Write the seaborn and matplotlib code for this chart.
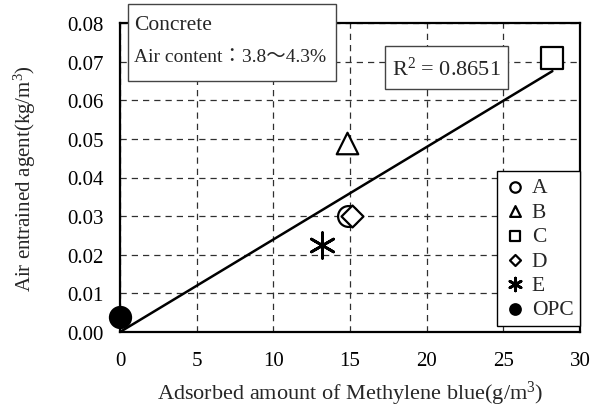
import numpy as np
import pandas as pd
import matplotlib
matplotlib.use("Agg")
import matplotlib.pyplot as plt
from matplotlib.patches import Rectangle
import seaborn as sns

# Measured samples: methylene blue adsorption vs. air-entraining agent dosage
labels = ["A", "B", "C", "D", "E", "OPC"]
mb_adsorbed = [14.9, 14.8, 28.2, 15.1, 13.2, 0.0]        # g/m3
ae_agent = [0.030, 0.049, 0.071, 0.030, 0.0225, 0.004]   # kg/m3
r2_text = "0.8651"

x_ticks = [0, 5, 10, 15, 20, 25, 30]
y_ticks = [0.00, 0.01, 0.02, 0.03, 0.04, 0.05, 0.06, 0.07, 0.08]

marker_map = {"A": "o", "B": "^", "C": "s", "D": "D", "E": (6, 2, 0), "OPC": "o"}
size_map = {"A": 225, "B": 240, "C": 240, "D": 125, "E": 340, "OPC": 230}
face_map = {"A": "white", "B": "white", "C": "white", "D": "white", "E": "black", "OPC": "black"}

sns.set_style("white")
plt.rcParams["font.family"] = ["Liberation Serif", "Noto Sans CJK JP"]
plt.rcParams["mathtext.fontset"] = "custom"
plt.rcParams["mathtext.rm"] = "Liberation Serif"
plt.rcParams["mathtext.it"] = "Liberation Serif:italic"

df = pd.DataFrame({"label": labels, "mb": mb_adsorbed, "ae": ae_agent})

fig = plt.figure(figsize=(5.92, 4.10), dpi=100)
ax = fig.add_axes([120 / 592, 1 - 333 / 410, 460 / 592, 309 / 410])

# Least-squares line through the origin
xv = np.asarray(mb_adsorbed)
yv = np.asarray(ae_agent)
slope = np.sum(xv * yv) / np.sum(xv * xv)
fit_x = np.array([0.0, xv.max()])
sns.lineplot(x=fit_x, y=slope * fit_x, color="black", lw=1.8, ax=ax, zorder=3)

for lab in labels:
    sub = df[df["label"] == lab]
    sns.scatterplot(
        data=sub, x="mb", y="ae", marker=marker_map[lab], s=size_map[lab],
        facecolor=face_map[lab], edgecolor="black",
        linewidth=2.0 if lab == "E" else 1.6,
        ax=ax, zorder=4, clip_on=False, label=lab,
    )

ax.set_xlim(0, 30)
ax.set_ylim(0, 0.08)
ax.set_xticks(x_ticks)
ax.set_yticks(y_ticks)
ax.set_yticklabels([f"{v:.2f}" for v in y_ticks])
ax.set_xticks(np.arange(0, 31, 1), minor=True)
ax.set_yticks(np.arange(0, 0.0801, 0.002), minor=True)
ax.tick_params(which="major", direction="in", length=7, width=1.2, labelsize=15, colors="black")
ax.tick_params(axis="x", which="major", pad=14)
ax.tick_params(axis="y", which="major", pad=12)
ax.tick_params(which="minor", direction="in", length=4, width=1.0)
ax.grid(True, which="major", ls=(0, (5, 4)), color="#303030", lw=0.9)
for sp in ax.spines.values():
    sp.set_color("black")
    sp.set_linewidth(1.6)

ax.set_xlabel("Adsorbed amount of Methylene blue(g/m$^3$)", fontsize=16)
ax.set_ylabel("Air entrained agent(kg/m$^3$)", fontsize=15)
ax.xaxis.set_label_coords(0.5, (333 - 394) / 309)
ax.xaxis.label.set_va("center")
ax.yaxis.set_label_coords((25 - 120) / 460, 0.5)
ax.yaxis.label.set_va("center")

leg = ax.legend(loc="lower right", bbox_to_anchor=(1.0, 0.02), borderaxespad=0,
                fontsize=15.5, frameon=True, fancybox=False, edgecolor="black",
                framealpha=1, markerscale=0.5, handletextpad=0.3,
                labelspacing=0.2, borderpad=0.3, handlelength=1.0)
leg.get_frame().set_linewidth(1.0)

# Annotation boxes (pixel positions in figure coordinates)
def px(x, y):
    return x / 592, 1 - y / 410

x0, y0 = px(128, 82)
x1, y1 = px(336, 5)
fig.patches.append(Rectangle((x0, y0), x1 - x0, y1 - y0, transform=fig.transFigure,
                             fc="white", ec="#444444", lw=1.0, zorder=5))
fig.text(*px(134, 26), "Concrete", fontsize=15.5, va="center", ha="left", zorder=6)
fig.text(*px(134, 58), "Air content：3.8～4.3%", fontsize=14, va="center", ha="left", zorder=6)

x0, y0 = px(385, 90)
x1, y1 = px(508, 47)
fig.patches.append(Rectangle((x0, y0), x1 - x0, y1 - y0, transform=fig.transFigure,
                             fc="white", ec="#444444", lw=1.0, zorder=5))
fig.text(*px(446.5, 69), "R$^2$ = " + r2_text, fontsize=16, va="center", ha="center", zorder=6)

fig.savefig("out.png", dpi=100)
